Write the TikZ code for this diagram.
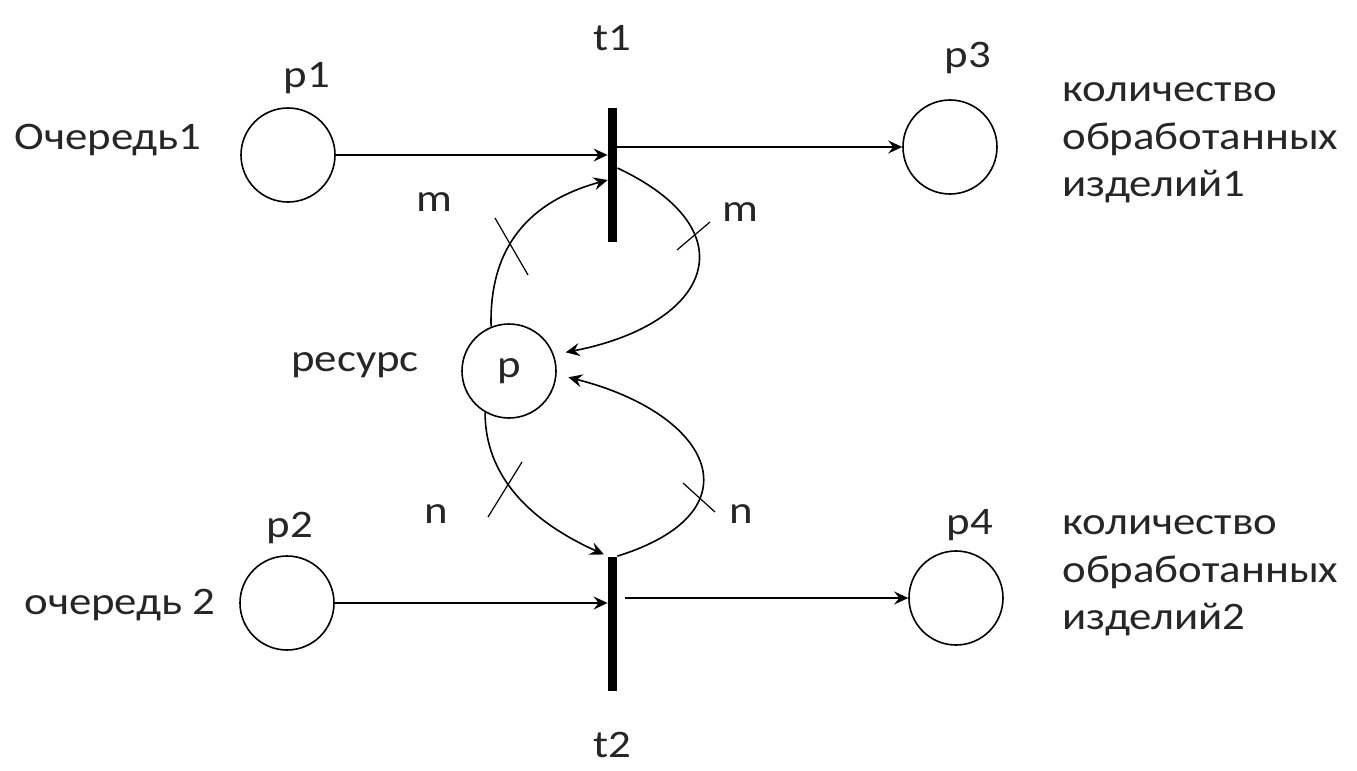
\documentclass[tikz,border=0pt]{standalone}
\usepackage{fontspec}
\setmainfont{Carlito}[FakeStretch=1.15]
\usetikzlibrary{arrows.meta}
\tikzset{
  place/.style={draw, circle, line width=0.8pt, minimum size=47pt, inner sep=0pt},
  trans/.style={fill=black, draw=none, minimum width=4.5pt, minimum height=67pt, inner sep=0pt},
  arc/.style={line width=0.8pt, -{Stealth[length=7pt,width=6.5pt,inset=2.5pt]}},
  tickline/.style={line width=0.6pt},
  lbl/.style={text=black!85, inner sep=0pt},
}
\begin{document}
\begin{tikzpicture}[x=0.5pt, y=-0.5pt, font=\fontsize{19.5}{23.75}\selectfont]
  \useasboundingbox (0,0) rectangle (1357,771);
  % Позиции
  \node[place] (p1) at (288,155) {};
  \node[place] (p2) at (287,603) {};
  \node[place] (p3) at (950,147) {};
  \node[place] (p4) at (956,598) {};
  \node[place, text=black!85] (res) at (509,371) {p};
  \node[trans] (t1) at (612.5,174.5) {};
  \node[trans] (t2) at (612.5,623.5) {};
  % Подписи
  \node[lbl] (lt1) at (612,38) {t1};
  \node[lbl] (lt2) at (612,745) {t2};
  \node[lbl] (lp1) at (307,78) {p1};
  \node[lbl] (lp2) at (290,528) {p2};
  \node[lbl] (lp3) at (968,58) {p3};
  \node[lbl] (lp4) at (970,525) {p4};
  \node[lbl] (q1) at (108,140) {Очередь1};
  \node[lbl] (q2) at (120,605) {очередь 2};
  \node[lbl] (lres) at (355,365) {ресурс};
  \node[lbl, anchor=west, align=left] (out1) at (1062,143) {количество\\обработанных\\изделий1};
  \node[lbl, anchor=west, align=left] (out2) at (1062,576) {количество\\обработанных\\изделий2};
  \node[lbl] (m1) at (434,202) {m};
  \node[lbl] (m2) at (740,212) {m};
  \node[lbl] (n1) at (436,514) {n};
  \node[lbl] (n2) at (741,514) {n};
  % Дуги
  \draw[arc] (p1) -- (p1 -| t1.west);
  \draw[arc] (t1.east |- p3) -- (p3);
  \draw[arc] (p2) -- (p2 -| t2.west);
  \draw[arc, shorten <=4pt] (t2.east |- p4) -- (p4);
  \draw[arc] (res.112) .. controls (489,245) and (531,201) .. (t1.west |- 0,180);
  \draw[arc, shorten >=6pt] (t1.east |- 0,168) .. controls (751,231) and (711,324) .. (res.20);
  \draw[arc, shorten >=6pt] (t2.north east) .. controls (759,512) and (713,414) .. (res.-4);
  \draw[arc, shorten >=2pt] (res.240) .. controls (485,485) and (543,527) .. (t2.north west);
  % Кратности
  \draw[tickline] (495,218) -- (528,275);
  \draw[tickline] (677,250) -- (710,222);
  \draw[tickline] (683,483) -- (715,512);
  \draw[tickline] (522,462) -- (488,517);
\end{tikzpicture}
\end{document}
